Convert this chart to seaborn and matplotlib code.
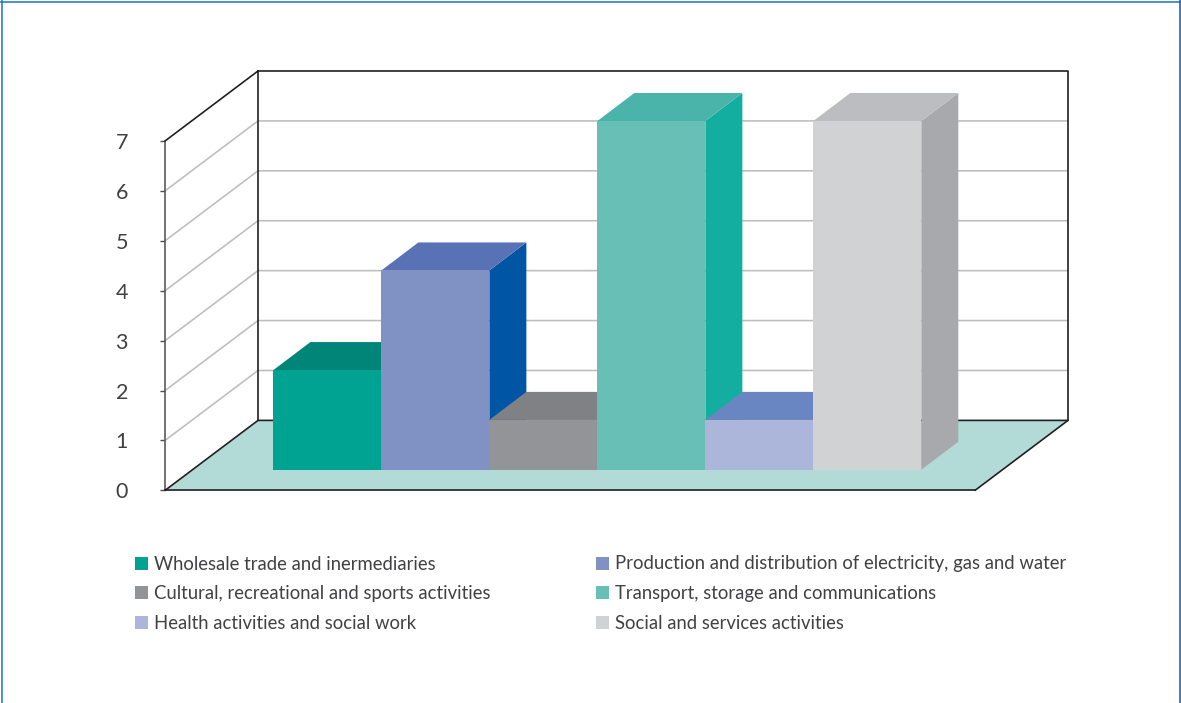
import matplotlib
matplotlib.use("Agg")
import matplotlib.pyplot as plt
from matplotlib.lines import Line2D
from matplotlib.patches import Patch, Polygon
import pandas as pd
import seaborn as sns

# ---- data ----
categories = [
    "Wholesale trade and inermediaries",
    "Production and distribution of electricity, gas and water",
    "Cultural, recreational and sports activities",
    "Transport, storage and communications",
    "Health activities and social work",
    "Social and services activities",
]
values = [2, 4, 1, 7, 1, 7]
y_ticks = [0, 1, 2, 3, 4, 5, 6, 7]
front_colors = ["#00a391", "#8091c4", "#929497", "#67bfb6", "#abb6da", "#d1d2d4"]
top_colors = ["#008578", "#5872b5", "#808184", "#4bb4aa", "#6a86c2", "#bcbdc0"]
side_colors = ["#007a6e", "#0055a4", "#6d6e71", "#13ae9f", "#5872b5", "#a7a9ac"]

W, H = 1181, 703
sns.set_theme(style="white")
plt.rcParams["font.family"] = ["Lato", "DejaVu Sans"]
TXT = "#414042"
GRID = "#bcbdbf"
BLACK = "#231f20"
FLOOR = "#b2dad6"

fig = plt.figure(figsize=(W / 100, H / 100), dpi=100, facecolor="white")


def box(x0, ytop, x1, ybot):
    return [x0 / W, 1 - ybot / H, (x1 - x0) / W, (ybot - ytop) / H]


# Front plane of the chart box: carries the value axis
ax = fig.add_axes(box(165, 141, 975, 490.4), zorder=1)
ax.set_xlim(0, 1)
ax.set_ylim(0, 7)
ax.patch.set_alpha(0)
for s in ("top", "right"):
    ax.spines[s].set_visible(False)
ax.spines["left"].set_color("#4d4d4f")
ax.spines["left"].set_linewidth(1.1)
ax.spines["bottom"].set_color(BLACK)
ax.spines["bottom"].set_linewidth(1.2)
ax.set_xticks([])
ax.set_yticks(y_ticks)
ax.tick_params(axis="y", length=3.6, width=1.0, color="#4d4d4f", pad=23,
               labelsize=15.5, labelcolor=TXT, left=True)

DX = 93 / 810          # depth of the box, axes-width fraction
DY = 70 / 49.91        # depth of the box, value units
top = max(y_ticks)
ax.add_patch(Polygon([(0, 0), (1, 0), (1 + DX, DY), (DX, DY)], closed=True,
                     fc=FLOOR, ec="none", clip_on=False, zorder=1))
for v in y_ticks[1:-1]:
    ax.plot([0, DX, 1 + DX], [v, v + DY, v + DY], color=GRID, lw=1.15,
            clip_on=False, zorder=2, solid_joinstyle="miter")
ax.plot([0, DX, 1 + DX, 1 + DX, DX, DX], [top, top + DY, top + DY, DY, DY, top + DY],
        color=BLACK, lw=1.2, clip_on=False, zorder=3)
ax.plot([0, DX], [0, DY], color=BLACK, lw=1.2, clip_on=False, zorder=3)
ax.plot([1, 1 + DX], [0, DY], color=BLACK, lw=1.2, clip_on=False, zorder=3)

# Bars stand on the floor, part-way into the box
bar_ax = fig.add_axes(box(192.4, 121, 1003.4, 469.7), zorder=2)
bar_ax.patch.set_alpha(0)
df = pd.DataFrame({"category": categories, "value": values})
sns.barplot(data=df, x="category", y="value", hue="category", hue_order=categories,
            palette=front_colors, dodge=False, width=1.0, legend=False,
            linewidth=0, saturation=1, ax=bar_ax)
bar_ax.set_xlim(-1.25, 6.26)
bar_ax.set_ylim(0, 7)
bar_ax.axis("off")

BX = 37 / 108           # bar depth, category units
BY = 28 / 49.81         # bar depth, value units
for cont, tc, sc in zip(bar_ax.containers, top_colors, side_colors):
    for p in cont.patches:
        x0, w, h = p.get_x(), p.get_width(), p.get_height()
        p.set_zorder(5)
        bar_ax.add_patch(Polygon([(x0, h), (x0 + w, h), (x0 + w + BX, h + BY), (x0 + BX, h + BY)],
                                 closed=True, fc=tc, ec="none", clip_on=False, zorder=4))
        bar_ax.add_patch(Polygon([(x0 + w, 0), (x0 + w + BX, BY), (x0 + w + BX, h + BY), (x0 + w, h)],
                                 closed=True, fc=sc, ec="none", clip_on=False, zorder=3))

# Legend, read row by row in the picture
order = [0, 2, 4, 1, 3, 5]
handles = [Patch(fc=front_colors[i], ec="none", label=categories[i]) for i in order]
leg = fig.legend(handles=handles, ncol=2, loc="upper left",
                 bbox_to_anchor=(135 / W, 1 - 555.5 / H), frameon=False,
                 prop={"family": "Lato", "size": 13.35}, labelcolor=TXT,
                 borderpad=0, borderaxespad=0,
                 handlelength=0.7, handleheight=0.7, handletextpad=0.35,
                 labelspacing=0.68, columnspacing=5.65)

# Page frame
for xs, ys, col in [((2 / W, 2 / W), (0, 1), "#2f7fc1"),
                    ((0, 1), (1 - 2 / H, 1 - 2 / H), "#2f7fc1"),
                    ((1180 / W, 1180 / W), (0, 1), "#1c66ae")]:
    fig.add_artist(Line2D(xs, ys, color=col, lw=1.2, transform=fig.transFigure))

fig.savefig("out.png", dpi=100)
